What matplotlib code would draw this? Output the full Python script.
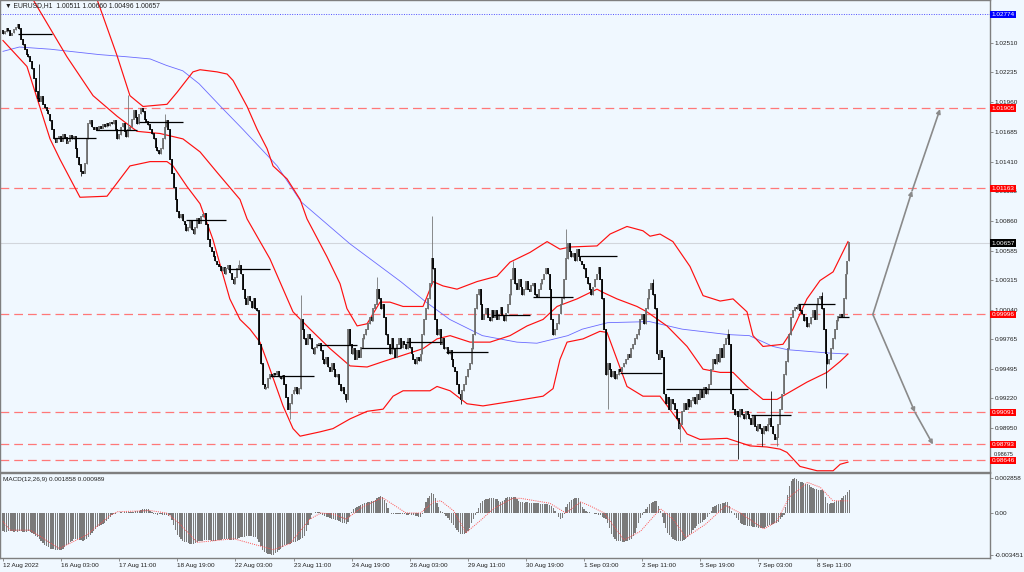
import numpy as np
import matplotlib
matplotlib.use('Agg')
import matplotlib.pyplot as plt
from matplotlib.transforms import blended_transform_factory

plt.rcParams['font.family'] = ['Liberation Sans', 'DejaVu Sans']

BG = '#F0F8FF'

# ---------------- data (prices in pips above 1.0000) ----------------
open0_pips = 262
close_pips = [
    259, 261, 264, 262, 258, 260, 263, 265, 268, 264,
    254, 249, 245, 240, 238, 234, 227, 218, 206, 199,
    197, 201, 194, 191, 188, 185, 179, 171, 162, 159,
    162, 164, 160, 166, 163, 158, 160, 165, 162, 164,
    153, 145, 138, 132, 130, 139, 162, 176, 179, 173,
    171, 173, 170, 174, 172, 175, 173, 176, 174, 177,
    176, 179, 171, 162, 166, 173, 176, 169, 164, 171,
    173, 180, 188, 182, 176, 185, 190, 187, 180, 178,
    175, 171, 167, 162, 154, 151, 148, 153, 162, 173,
    179, 171, 143, 130, 117, 106, 95, 89, 92, 86,
    83, 77, 80, 86, 78, 74, 80, 88, 84, 90,
    92, 93, 83, 69, 62, 58, 53, 49, 46, 44,
    40, 43, 37, 42, 45, 38, 32, 28, 34, 42,
    45, 37, 23, 14, 9, 16, 12, 6, 14, 5,
    3, -28, -46, -65, -69, -68, -60, -56, -58, -55,
    -56, -53, -58, -60, -57, -65, -77, -88, -83, -74,
    -71, -68, -74, -69, -5, -14, -23, -28, -19, -23,
    -32, -37, -31, -28, -27, -34, -42, -46, -40, -49,
    -53, -46, -51, -58, -56, -65, -71, -68, -74, -79,
    -14, -28, -37, -32, -42, -34, -40, -31, -23, -19,
    -14, -9, -3, -6, 5, 9, 23, 14, 5, 9,
    -3, -19, -28, -37, -23, -32, -40, -28, -23, -31,
    -25, -28, -32, -23, -31, -37, -42, -46, -40, -43,
    -37, -19, -5, 5, 14, 28, 51, 42, -5, -19,
    -14, -28, -23, -32, -31, -37, -34, -42, -49, -53,
    -65, -74, -79, -71, -65, -58, -51, -46, -32, -19,
    5, 18, 23, 9, -5, 0, 5, -3, -6, 3,
    -3, 3, -5, 0, 6, -1, -6, 1, 9, 18,
    32, 42, 28, 23, 32, 25, 18, 23, 30, 23,
    21, 26, 28, 18, 16, 23, 28, 32, 37, 42,
    37, 23, -5, -19, -14, -9, 0, 9, 14, 32,
    51, 65, 58, 53, 56, 49, 60, 53, 49, 46,
    42, 34, 28, 23, 18, 25, 32, 37, 43, 32,
    14, -14, -56, -46, -51, -58, -53, -60, -56, -51,
    -53, -49, -46, -42, -37, -40, -32, -28, -23, -19,
    -14, -5, 0, -9, 5, 14, 23, 28, 18, 5,
    -37, -42, -34, -40, -74, -83, -77, -88, -79, -83,
    -88, -97, -106, -102, -90, -83, -88, -79, -86, -80,
    -77, -83, -74, -79, -71, -77, -68, -74, -69, -65,
    -51, -42, -46, -37, -44, -32, -40, -28, -23, -19,
    -28, -74, -88, -93, -90, -95, -88, -93, -97, -90,
    -93, -97, -102, -95, -104, -108, -102, -106, -111, -104,
    -108, -102, -97, -104, -111, -116, -114, -102, -88, -74,
    -56, -44, -32, -19, -3, 3, 6, 5, 8, 3,
    0, -6, -3, -12, -9, -3, 3, -5, 9, 14,
    16, 5, -14, -37, -46, -42, -32, -23, -14, -6,
    -2, 0, -3, 14, 37, 49, 66,
]
high_spikes = {20: 231, 69: 203, 89: 185, 130: 50, 164: 18, 206: 34, 236: 91,
               281: 49, 310: 79, 358: 32, 399: -14, 423: -71, 451: 20}
low_spikes = {43: 128, 158: -97, 189: -81, 252: -83, 333: -88, 373: -118,
              405: -134, 418: -122, 426: -122, 453: -68}

# daily open segments: start bar, end bar, level (pips)
day_start = [8, 28, 51, 75, 101, 124, 147, 173, 197, 222, 244, 270, 292, 318, 340, 365, 412, 438, 460]
day_end = [27, 51, 74, 99, 123, 147, 171, 195, 219, 242, 267, 290, 314, 338, 363, 410, 434, 458, 466]
day_level = [259, 163, 170, 178, 87, 42, -57, -29, -31, -26, -35, -1, 16, 54, -55, -69, -93, 9, -3]

# Bollinger-type envelopes (bar index, pips)
lower_i = [0, 13.2, 25.9, 31.4, 42.4, 57.3, 69.9, 81.0, 90.3, 93.6, 101.3, 108.5, 115.6, 124.9, 130.5,
           136.0, 141.5, 147.0, 154.2, 159.7, 163.6, 174.6, 181.7, 191.1, 200.5, 209.3, 214.8, 220.3,
           235.1, 239.0, 246.2, 255.5, 264.3, 283.1, 297.4, 302.9, 306.7, 310.6, 319.4, 328.7, 332.6,
           338.1, 343.6, 352.4, 361.8, 371.1, 376.7, 383.8, 398.7, 404.2, 411.4, 420.7, 427.9, 431.7,
           438.9, 448.3, 457.1, 461.0, 465.3]
lower_p = [253, 229, 162, 143, 108, 109, 137, 141, 141, 137, 118, 102, 69, 14, -5,
           -14, -26, -51, -85, -106, -113, -109, -106, -97, -90, -88, -76, -71,
           -71, -67, -71, -83, -85, -80, -76, -69, -42, -26, -23, -16, -17,
           -42, -67, -76, -76, -97, -111, -116, -115, -118, -122, -123, -125, -128,
           -141, -145, -145, -139, -137]
middle_i = [12.1, 16.5, 35.2, 49.6, 62.8, 73.8, 86.5, 99.1, 108.5, 117.9, 130.5, 134.4, 147.0, 159.7,
            169.1, 180.1, 191.1, 200.5, 209.3, 218.6, 231.3, 239.0, 246.2, 257.2, 268.2, 279.2,
            288.6, 297.4, 305.1, 316.1, 327.1, 330.4, 338.1, 349.1, 354.6, 365.6, 376.7, 385.5,
            394.9, 402.0, 409.7, 418.5, 426.2, 433.4, 442.7, 453.7, 460.9, 465.3]
middle_p = [319, 291, 238, 202, 183, 169, 167, 162, 150, 131, 106, 88, 51, 2,
            -14, -32, -48, -49, -44, -39, -32, -23, -20, -26, -26, -20,
            -11, -5, 7, 14, 23, 20, 14, 7, 2, -11, -30, -51,
            -54, -54, -67, -79, -79, -72, -63, -54, -44, -37]
upper_i = [46.8, 51.8, 62.8, 69.9, 77.1, 90.3, 95.8, 104.6, 108.5, 117.9, 123.4, 126.7, 134.4, 139.9,
           145.4, 148.7, 156.4, 163.6, 167.4, 178.4, 185.6, 189.4, 195.0, 200.5, 207.6, 213.1,
           220.3, 231.3, 236.8, 242.3, 250.0, 261.0, 272.0, 279.2, 290.2, 299.6, 306.7, 312.2,
           327.1, 334.3, 343.6, 352.4, 356.3, 361.8, 368.9, 378.3, 385.5, 394.9, 402.0, 409.7,
           413.0, 418.5, 429.5, 435.0, 442.7, 449.9, 457.1, 465.3]
upper_p = [315, 291, 239, 202, 192, 194, 205, 224, 226, 224, 222, 216, 192, 171,
           153, 137, 125, 106, 88, 53, 28, 5, -11, -9, 11, 11,
           7, 7, 30, 26, 23, 30, 35, 48, 57, 67, 60, 62,
           63, 74, 81, 77, 72, 74, 67, 44, 17, 12, 14, 2,
           -20, -30, -28, -14, 14, 31, 39, 67]
ma_i = [0, 9, 26, 53, 68, 81, 90, 99, 108, 121, 132, 151, 164, 191, 219, 233, 246, 264, 283,
        294, 311, 319, 333, 356, 374, 399, 411, 424, 432, 454, 465]
ma_p = [243, 247, 245, 240, 238, 236, 230, 225, 213, 190, 171, 137, 104, 65, 30, 11, -5, -20, -26,
        -27, -20, -14, -8, -7, -14, -19, -20, -30, -33, -36, -37]

red_levels = [1.01905, 1.01163, 0.99996, 0.99091, 0.98793, 0.98646]
blue_level = 1.02774
last_price = 1.00657

# MACD main (histogram) in 1e-5 units, one per bar
macd_e5 = [
    -150, -152, -155, -150, -148, -150, -153, -150, -152, -150,
    -150, -152, -155, -158, -150, -152, -160, -170, -185, -200,
    -215, -230, -245, -258, -270, -280, -290, -295, -298, -300,
    -300, -302, -300, -290, -280, -265, -250, -238, -225, -215,
    -210, -212, -218, -222, -225, -220, -215, -200, -180, -160,
    -145, -130, -118, -108, -100, -90, -78, -62, -45, -30,
    -20, -12, -6, 0, 3, 5, 2, 6, 8, 10,
    8, 12, 10, 15, 18, 20, 25, 30, 33, 35,
    30, 15, 5, -10, -12, -15, -12, -10, -15, -18,
    -20, -25, -20, -60, -100, -140, -180, -200, -215, -225,
    -235, -240, -245, -250, -252, -250, -248, -240, -232, -228,
    -225, -222, -220, -218, -222, -225, -228, -225, -222, -220,
    -218, -215, -212, -210, -215, -220, -222, -220, -215, -210,
    -205, -200, -198, -195, -190, -188, -185, -190, -195, -200,
    -210, -240, -270, -300, -320, -330, -335, -338, -340, -340,
    -330, -318, -305, -290, -278, -265, -258, -252, -250, -245,
    -240, -235, -228, -220, -212, -205, -190, -150, -100, -50,
    -20, 0, 8, 10, 5, -5, -20, -25, -30, -35,
    -40, -45, -50, -55, -60, -65, -70, -78, -85, -90,
    -70, -30, 10, 30, 40, 50, 60, 65, 75, 82,
    85, 88, 90, 95, 100, 110, 120, 128, 136, 130,
    110, 80, 40, 0, -5, -8, -10, -10, -8, -10,
    -10, -12, -15, -15, -12, -18, -20, -22, -25, -30,
    -30, -10, 40, 90, 120, 140, 160, 155, 120, 80,
    50, 20, 5, -10, -25, -40, -60, -80, -100, -120,
    -140, -155, -170, -172, -170, -165, -150, -120, -80, -50,
    -20, 10, 40, 80, 100, 110, 115, 118, 120, 120,
    122, 118, 115, 100, 90, 100, 110, 120, 128, 130,
    130, 132, 128, 115, 100, 90, 88, 85, 86, 88,
    85, 82, 80, 78, 80, 78, 76, 74, 72, 72,
    70, 68, 60, 40, 20, 0, -30, -50, -40, -10,
    50, 70, 90, 105, 115, 120, 122, 120, 90, 50,
    30, 20, 10, 5, 3, 0, -5, -10, -15, -20,
    -30, -40, -50, -80, -120, -170, -200, -215, -225, -230,
    -232, -235, -235, -232, -230, -222, -210, -190, -160, -120,
    -80, -40, -20, 10, 30, 50, 70, 80, 90, 100,
    100, 60, 20, -30, -80, -120, -160, -180, -200, -215,
    -222, -225, -228, -230, -228, -220, -210, -200, -180, -160,
    -140, -120, -105, -90, -80, -70, -60, -50, -30, -10,
    20, 50, 60, 65, 70, 75, 80, 85, 88, 90,
    60, 20, 0, -20, -40, -60, -80, -90, -95, -100,
    -105, -108, -110, -112, -115, -118, -120, -120, -122, -120,
    -115, -110, -100, -95, -90, -85, -80, -70, -50, -30,
    -20, 50, 150, 220, 265, 280, 285, 275, 265, 255,
    250, 245, 240, 235, 225, 215, 205, 200, 195, 190,
    188, 185, 180, 130, 80, 75, 80, 85, 90, 95,
    100, 110, 120, 135, 150, 170, 186,
]
signal_i = [0, 4, 15, 31, 46, 59, 63, 81, 90, 96, 107, 127, 149, 158, 169, 175, 182, 189, 198, 209,
            222, 230, 237, 241, 248, 255, 263, 270, 278, 281, 285, 301, 310, 318, 323, 331, 342, 351,
            362, 369, 376, 387, 398, 406, 419, 426, 433, 443, 450, 457, 466]
signal_e5 = [-70, -140, -140, -290, -180, -20, 10, 20, 0, -70, -240, -210, -300, -250, -50, 0, -10, -50,
             50, 125, 0, 0, 90, 100, 20, -160, -60, 35, 100, 120, 120, 80, 0, 90, 60, 0, -220, -150,
             35, -50, -200, -90, 60, 0, -130, -70, 130, 250, 210, 100, 99]

tick_bars = [0, 32, 64, 96, 128, 160, 192, 224, 256, 288, 320, 352, 384, 416, 448]
tick_labels = ['12 Aug 2022', '16 Aug 03:00', '17 Aug 11:00', '18 Aug 19:00', '22 Aug 03:00',
               '23 Aug 11:00', '24 Aug 19:00', '26 Aug 03:00', '29 Aug 11:00', '30 Aug 19:00',
               '1 Sep 03:00', '2 Sep 11:00', '5 Sep 19:00', '7 Sep 03:00', '8 Sep 11:00']
price_ticks = [1.02510, 1.02235, 1.01960, 1.01685, 1.01410, 1.01135, 1.00860, 1.00585, 1.00315,
               1.00040, 0.99765, 0.99495, 0.99220, 0.98950, 0.98675]

# ---------------- figure ----------------
W, H = 1024, 572
fig = plt.figure(figsize=(W / 100, H / 100), dpi=100, facecolor=BG)
ax1 = fig.add_axes([0, (H - 472) / H, 990 / W, 472 / H], facecolor=BG)
ax2 = fig.add_axes([0, (H - 558) / H, 990 / W, 85 / H], facecolor=BG)

XL = (-1.65, 543.5)
for ax in (ax1, ax2):
    ax.set_xlim(*XL)
    for s in ax.spines.values():
        s.set_color('#7f7f7f')
        s.set_linewidth(1.0)
ax1.set_ylim(0.985386, 1.029050)
ax2.set_ylim(-0.003675, 0.003266)

def px(p):
    return 1.0 + np.asarray(p, dtype=float) / 10000.0

# horizontal levels
ax1.axhline(blue_level, color='#5050FF', lw=0.7, ls=(0, (1, 1.5)), zorder=1)
ax1.axhline(last_price, color='#D2D6DC', lw=0.8, zorder=1)
for lv in red_levels:
    ax1.axhline(lv, color='#FF7878', lw=0.9, ls=(0, (7, 4)), zorder=1)

# indicator lines
ax1.plot(ma_i, px(ma_p), color='#6A6AFF', lw=0.6, zorder=2)
ax1.plot(lower_i, px(lower_p), color='#FF1010', lw=0.85, zorder=2)
ax1.plot(middle_i, px(middle_p), color='#FF1010', lw=0.85, zorder=2)
ax1.plot(upper_i, px(upper_p), color='#FF1010', lw=0.85, zorder=2)

# candles
n = len(close_pips)
idx = np.arange(n)
c = px(close_pips)
o = px([open0_pips] + close_pips[:-1])
hi = np.maximum(o, c)
lo = np.minimum(o, c)
for k, v in high_spikes.items():
    if k < n:
        hi[k] = max(hi[k], px(v))
for k, v in low_spikes.items():
    if k < n:
        lo[k] = min(lo[k], px(v))
cols = np.where(c >= o, '#6c6c6c', '#000000')
ax1.vlines(idx, lo, hi, colors=cols, lw=0.55, zorder=3)
ax1.vlines(idx, np.minimum(o, c) - 0.00004, np.maximum(o, c) + 0.00004, colors=cols, lw=1.25, zorder=3)

# daily open segments
ax1.hlines(px(day_level), day_start, day_end, colors='#000000', lw=0.9, zorder=4)

# projection arrows
acol = '#8a8a8a'
aprops = dict(arrowstyle='-|>', color=acol, lw=1.2, mutation_scale=6, shrinkA=0, shrinkB=0)
ax1.annotate('', xy=(500.6, 1.01140), xytext=(479, 0.99996), arrowprops=aprops, zorder=5)
ax1.annotate('', xy=(516, 1.01896), xytext=(500.6, 1.01140), arrowprops=aprops, zorder=5)
ax1.annotate('', xy=(502.2, 0.99091), xytext=(479, 0.99996), arrowprops=aprops, zorder=5)
ax1.annotate('', xy=(512.1, 0.98793), xytext=(502.2, 0.99091), arrowprops=aprops, zorder=5)

# axes ticks
FS = 4.6
ax1.set_xticks([])
ax1.yaxis.tick_right()
ax1.set_yticks(price_ticks)
ax1.set_yticklabels(['%.5f' % t if t > 0.987 else '' for t in price_ticks])
ax1.tick_params(axis='y', labelsize=FS, length=2, width=0.6, pad=1.5, colors='#7f7f7f', labelcolor='#202020')
# lowest grid label sits just above the red 0.98646 tag (as in the reference, partly covered)
trl = blended_transform_factory(ax1.transAxes, ax1.transData)
ax1.text(1.0035, 0.98675, '%.5f' % 0.98675, transform=trl, ha='left', va='bottom', fontsize=4.0,
         color='#202020', clip_on=False, zorder=9)

ax2.yaxis.tick_right()
ax2.set_yticks([0.002858, 0.0, -0.003451])
ax2.set_yticklabels(['0.002858', '0.00', '-0.003451'])
ax2.tick_params(axis='y', labelsize=FS, length=2, width=0.6, pad=1.5, colors='#7f7f7f', labelcolor='#202020')
ax2.set_xticks(tick_bars)
ax2.set_xticklabels(tick_labels, ha='left')
ax2.tick_params(axis='x', labelsize=FS, length=2, width=0.6, pad=1.5, colors='#7f7f7f', labelcolor='#202020')

# right side price labels
tr = blended_transform_factory(ax1.transAxes, ax1.transData)
def tag(val, fc):
    ax1.text(1.0015, val, '%.5f' % val, transform=tr, ha='left', va='center', fontsize=FS,
             color='white', clip_on=False, zorder=10,
             bbox=dict(boxstyle='square,pad=0.18', fc=fc, ec='none'))
tag(blue_level, '#0000FF')
for lv in red_levels:
    tag(lv, '#FF0000')
tag(last_price, '#000000')

# MACD
m_idx = np.arange(len(macd_e5))
ax2.bar(m_idx, np.asarray(macd_e5) * 1e-5, width=0.7, color='#7a7a7a', zorder=2)
ax2.plot(signal_i, np.asarray(signal_e5) * 1e-5, color='#FF5050', lw=0.7, ls=(0, (1, 1.2)), zorder=3)

# header texts
fig.text(5 / W, 1 - 6 / H, '\u25bc EURUSD,H1  1.00511 1.00660 1.00496 1.00657', fontsize=4.9,
         va='center', ha='left', color='#202020')
fig.text(3 / W, 1 - 479 / H, 'MACD(12,26,9) 0.001858 0.000989', fontsize=4.6,
         va='center', ha='left', color='#202020')

fig.savefig('out.png', dpi=100, facecolor=BG)
